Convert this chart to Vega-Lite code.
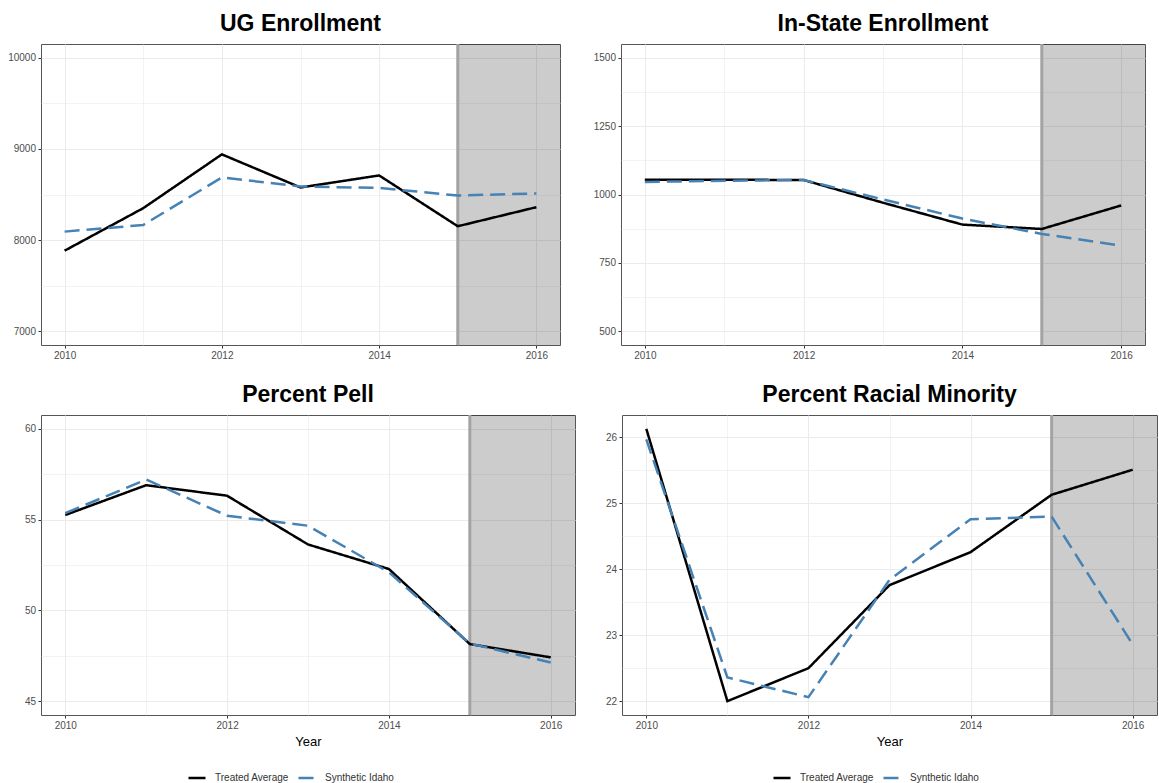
{
  "$schema": "https://vega.github.io/schema/vega-lite/v6.json",
  "background": "white",
  "padding": {"left": 0, "top": 12, "right": 0, "bottom": 0},
  "config": {
    "view": {"stroke": "#555555", "strokeWidth": 1},
    "axis": {
      "domain": false,
      "labelFont": "Liberation Sans",
      "labelFontSize": 10,
      "labelColor": "#4d4d4d",
      "tickColor": "#333333",
      "tickSize": 3,
      "labelPadding": 2.5,
      "gridColor": "#ebebeb",
      "titleFont": "Liberation Sans",
      "titleFontSize": 13,
      "titleFontWeight": "normal",
      "titleColor": "#000000"
    },
    "title": {
      "font": "Liberation Sans",
      "fontSize": 23,
      "fontWeight": "bold",
      "color": "#000000",
      "anchor": "middle",
      "frame": "group",
      "offset": 7
    },
    "legend": {
      "labelFont": "Liberation Sans",
      "labelFontSize": 10,
      "labelColor": "#333333",
      "symbolType": "stroke",
      "symbolStrokeWidth": 2.5,
      "symbolSize": 290,
      "columnPadding": 4,
      "labelOffset": 8
    }
  },
  "datasets": {
    "shade": [{"start": 2015, "end": 2016.3}],
    "ug": [
      {"year": 2010, "series": "Treated Average", "value": 7884},
      {"year": 2011, "series": "Treated Average", "value": 8350},
      {"year": 2012, "series": "Treated Average", "value": 8940},
      {"year": 2013, "series": "Treated Average", "value": 8577},
      {"year": 2014, "series": "Treated Average", "value": 8709},
      {"year": 2015, "series": "Treated Average", "value": 8152},
      {"year": 2016, "series": "Treated Average", "value": 8361},
      {"year": 2010, "series": "Synthetic Idaho", "value": 8093},
      {"year": 2011, "series": "Synthetic Idaho", "value": 8166},
      {"year": 2012, "series": "Synthetic Idaho", "value": 8687},
      {"year": 2013, "series": "Synthetic Idaho", "value": 8588},
      {"year": 2014, "series": "Synthetic Idaho", "value": 8572},
      {"year": 2015, "series": "Synthetic Idaho", "value": 8489},
      {"year": 2016, "series": "Synthetic Idaho", "value": 8511}
    ],
    "instate": [
      {"year": 2010, "series": "Treated Average", "value": 1054},
      {"year": 2011, "series": "Treated Average", "value": 1054},
      {"year": 2012, "series": "Treated Average", "value": 1053},
      {"year": 2013, "series": "Treated Average", "value": 970},
      {"year": 2014, "series": "Treated Average", "value": 890},
      {"year": 2015, "series": "Treated Average", "value": 874},
      {"year": 2016, "series": "Treated Average", "value": 960},
      {"year": 2010, "series": "Synthetic Idaho", "value": 1046},
      {"year": 2011, "series": "Synthetic Idaho", "value": 1050},
      {"year": 2012, "series": "Synthetic Idaho", "value": 1053},
      {"year": 2013, "series": "Synthetic Idaho", "value": 982},
      {"year": 2014, "series": "Synthetic Idaho", "value": 912},
      {"year": 2015, "series": "Synthetic Idaho", "value": 856},
      {"year": 2016, "series": "Synthetic Idaho", "value": 813}
    ],
    "pell": [
      {"year": 2010, "series": "Treated Average", "value": 55.25},
      {"year": 2011, "series": "Treated Average", "value": 56.89},
      {"year": 2012, "series": "Treated Average", "value": 56.31},
      {"year": 2013, "series": "Treated Average", "value": 53.63},
      {"year": 2014, "series": "Treated Average", "value": 52.28},
      {"year": 2015, "series": "Treated Average", "value": 48.15},
      {"year": 2016, "series": "Treated Average", "value": 47.42},
      {"year": 2010, "series": "Synthetic Idaho", "value": 55.35},
      {"year": 2011, "series": "Synthetic Idaho", "value": 57.2},
      {"year": 2012, "series": "Synthetic Idaho", "value": 55.21},
      {"year": 2013, "series": "Synthetic Idaho", "value": 54.66},
      {"year": 2014, "series": "Synthetic Idaho", "value": 52.1},
      {"year": 2015, "series": "Synthetic Idaho", "value": 48.18},
      {"year": 2016, "series": "Synthetic Idaho", "value": 47.14}
    ],
    "minority": [
      {"year": 2010, "series": "Treated Average", "value": 26.13},
      {"year": 2011, "series": "Treated Average", "value": 22.0},
      {"year": 2012, "series": "Treated Average", "value": 22.5},
      {"year": 2013, "series": "Treated Average", "value": 23.76},
      {"year": 2014, "series": "Treated Average", "value": 24.26},
      {"year": 2015, "series": "Treated Average", "value": 25.13},
      {"year": 2016, "series": "Treated Average", "value": 25.51},
      {"year": 2010, "series": "Synthetic Idaho", "value": 25.97},
      {"year": 2011, "series": "Synthetic Idaho", "value": 22.36},
      {"year": 2012, "series": "Synthetic Idaho", "value": 22.06},
      {"year": 2013, "series": "Synthetic Idaho", "value": 23.84},
      {"year": 2014, "series": "Synthetic Idaho", "value": 24.76},
      {"year": 2015, "series": "Synthetic Idaho", "value": 24.8},
      {"year": 2016, "series": "Synthetic Idaho", "value": 22.86}
    ]
  },
  "resolve": {"scale": {"color": "independent", "strokeDash": "independent"}},
  "spacing": 22,
  "vconcat": [
    {
      "spacing": 29,
      "resolve": {"scale": {"color": "independent", "strokeDash": "independent"}},
      "hconcat": [
        {
          "width": 519,
          "height": 301,
          "title": {"text": "UG Enrollment"},
          "layer": [
            {
              "data": {"name": "shade"},
              "mark": {"type": "rect", "color": "#000000", "opacity": 0.2, "clip": true},
              "encoding": {
                "x": {"field": "start", "type": "quantitative",
                  "scale": {"domain": [2009.7, 2016.3], "nice": false, "zero": false},
                  "axis": {"title": null, "values": [2010, 2011, 2012, 2013, 2014, 2015, 2016],
                    "labelExpr": "datum.value % 2 == 0 ? format(datum.value, 'd') : ''",
                    "tickOpacity": {"condition": {"test": "datum.value % 2 == 0", "value": 1}, "value": 0},
                    "gridWidth": {"condition": {"test": "datum.value % 2 == 0", "value": 1}, "value": 0.6}}},
                "x2": {"field": "end"}
              }
            },
            {
              "data": {"name": "shade"},
              "mark": {"type": "rule", "color": "#a3a3a3", "strokeWidth": 3},
              "encoding": {"x": {"field": "start", "type": "quantitative"}}
            },
            {
              "data": {"name": "ug"},
              "mark": {"type": "line", "strokeWidth": 2.5, "clip": true},
              "encoding": {
                "x": {"field": "year", "type": "quantitative"},
                "y": {"field": "value", "type": "quantitative",
                  "scale": {"domain": [6850, 10150], "nice": false, "zero": false},
                  "axis": {"title": null, "minExtent": 40, "maxExtent": 40,
                    "values": [7000, 7500, 8000, 8500, 9000, 9500, 10000],
                    "labelExpr": "datum.value % 1000 == 0 ? format(datum.value, 'd') : ''",
                    "tickOpacity": {"condition": {"test": "datum.value % 1000 == 0", "value": 1}, "value": 0},
                    "gridWidth": {"condition": {"test": "datum.value % 1000 == 0", "value": 1}, "value": 0.6}}},
                "color": {"field": "series", "type": "nominal", "legend": null,
                  "scale": {"domain": ["Treated Average", "Synthetic Idaho"], "range": ["#000000", "#4682b4"]}},
                "strokeDash": {"field": "series", "type": "nominal", "legend": null,
                  "scale": {"domain": ["Treated Average", "Synthetic Idaho"], "range": [[1, 0], [15, 7]]}}
              }
            }
          ]
        },
        {
          "width": 524,
          "height": 301,
          "title": {"text": "In-State Enrollment"},
          "layer": [
            {
              "data": {"name": "shade"},
              "mark": {"type": "rect", "color": "#000000", "opacity": 0.2, "clip": true},
              "encoding": {
                "x": {"field": "start", "type": "quantitative",
                  "scale": {"domain": [2009.7, 2016.3], "nice": false, "zero": false},
                  "axis": {"title": null, "values": [2010, 2011, 2012, 2013, 2014, 2015, 2016],
                    "labelExpr": "datum.value % 2 == 0 ? format(datum.value, 'd') : ''",
                    "tickOpacity": {"condition": {"test": "datum.value % 2 == 0", "value": 1}, "value": 0},
                    "gridWidth": {"condition": {"test": "datum.value % 2 == 0", "value": 1}, "value": 0.6}}},
                "x2": {"field": "end"}
              }
            },
            {
              "data": {"name": "shade"},
              "mark": {"type": "rule", "color": "#a3a3a3", "strokeWidth": 3},
              "encoding": {"x": {"field": "start", "type": "quantitative"}}
            },
            {
              "data": {"name": "instate"},
              "mark": {"type": "line", "strokeWidth": 2.5, "clip": true},
              "encoding": {
                "x": {"field": "year", "type": "quantitative"},
                "y": {"field": "value", "type": "quantitative",
                  "scale": {"domain": [450, 1550], "nice": false, "zero": false},
                  "axis": {"title": null, "minExtent": 30, "maxExtent": 30,
                    "values": [500, 625, 750, 875, 1000, 1125, 1250, 1375, 1500],
                    "labelExpr": "datum.value % 250 == 0 ? format(datum.value, 'd') : ''",
                    "tickOpacity": {"condition": {"test": "datum.value % 250 == 0", "value": 1}, "value": 0},
                    "gridWidth": {"condition": {"test": "datum.value % 250 == 0", "value": 1}, "value": 0.6}}},
                "color": {"field": "series", "type": "nominal", "legend": null,
                  "scale": {"domain": ["Treated Average", "Synthetic Idaho"], "range": ["#000000", "#4682b4"]}},
                "strokeDash": {"field": "series", "type": "nominal", "legend": null,
                  "scale": {"domain": ["Treated Average", "Synthetic Idaho"], "range": [[1, 0], [15, 7]]}}
              }
            }
          ]
        }
      ]
    },
    {
      "spacing": 25,
      "resolve": {"scale": {"color": "independent", "strokeDash": "independent"}},
      "hconcat": [
        {
          "width": 534,
          "height": 300,
          "title": {"text": "Percent Pell"},
          "layer": [
            {
              "data": {"name": "shade"},
              "mark": {"type": "rect", "color": "#000000", "opacity": 0.2, "clip": true},
              "encoding": {
                "x": {"field": "start", "type": "quantitative",
                  "scale": {"domain": [2009.7, 2016.3], "nice": false, "zero": false},
                  "axis": {"title": "Year", "titlePadding": 5, "values": [2010, 2011, 2012, 2013, 2014, 2015, 2016],
                    "labelExpr": "datum.value % 2 == 0 ? format(datum.value, 'd') : ''",
                    "tickOpacity": {"condition": {"test": "datum.value % 2 == 0", "value": 1}, "value": 0},
                    "gridWidth": {"condition": {"test": "datum.value % 2 == 0", "value": 1}, "value": 0.6}}},
                "x2": {"field": "end"}
              }
            },
            {
              "data": {"name": "shade"},
              "mark": {"type": "rule", "color": "#a3a3a3", "strokeWidth": 3},
              "encoding": {"x": {"field": "start", "type": "quantitative"}}
            },
            {
              "data": {"name": "pell"},
              "mark": {"type": "line", "strokeWidth": 2.5, "clip": true},
              "encoding": {
                "x": {"field": "year", "type": "quantitative"},
                "y": {"field": "value", "type": "quantitative",
                  "scale": {"domain": [44.25, 60.75], "nice": false, "zero": false},
                  "axis": {"title": null, "minExtent": 40, "maxExtent": 40,
                    "values": [45, 47.5, 50, 52.5, 55, 57.5, 60],
                    "labelExpr": "datum.value % 5 == 0 ? format(datum.value, 'd') : ''",
                    "tickOpacity": {"condition": {"test": "datum.value % 5 == 0", "value": 1}, "value": 0},
                    "gridWidth": {"condition": {"test": "datum.value % 5 == 0", "value": 1}, "value": 0.6}}},
                "color": {"field": "series", "type": "nominal",
                  "scale": {"domain": ["Treated Average", "Synthetic Idaho"], "range": ["#000000", "#4682b4"]},
                  "legend": {"title": null, "orient": "none", "direction": "horizontal", "legendX": 146, "legendY": 353}},
                "strokeDash": {"field": "series", "type": "nominal",
                  "scale": {"domain": ["Treated Average", "Synthetic Idaho"], "range": [[1, 0], [15, 7]]},
                  "legend": {"title": null, "orient": "none", "direction": "horizontal", "legendX": 146, "legendY": 353}}
              }
            }
          ]
        },
        {
          "width": 535,
          "height": 300,
          "title": {"text": "Percent Racial Minority"},
          "layer": [
            {
              "data": {"name": "shade"},
              "mark": {"type": "rect", "color": "#000000", "opacity": 0.2, "clip": true},
              "encoding": {
                "x": {"field": "start", "type": "quantitative",
                  "scale": {"domain": [2009.7, 2016.3], "nice": false, "zero": false},
                  "axis": {"title": "Year", "titlePadding": 5, "values": [2010, 2011, 2012, 2013, 2014, 2015, 2016],
                    "labelExpr": "datum.value % 2 == 0 ? format(datum.value, 'd') : ''",
                    "tickOpacity": {"condition": {"test": "datum.value % 2 == 0", "value": 1}, "value": 0},
                    "gridWidth": {"condition": {"test": "datum.value % 2 == 0", "value": 1}, "value": 0.6}}},
                "x2": {"field": "end"}
              }
            },
            {
              "data": {"name": "shade"},
              "mark": {"type": "rule", "color": "#a3a3a3", "strokeWidth": 3},
              "encoding": {"x": {"field": "start", "type": "quantitative"}}
            },
            {
              "data": {"name": "minority"},
              "mark": {"type": "line", "strokeWidth": 2.5, "clip": true},
              "encoding": {
                "x": {"field": "year", "type": "quantitative"},
                "y": {"field": "value", "type": "quantitative",
                  "scale": {"domain": [21.79, 26.34], "nice": false, "zero": false},
                  "axis": {"title": null, "minExtent": 20, "maxExtent": 20,
                    "values": [22, 22.5, 23, 23.5, 24, 24.5, 25, 25.5, 26],
                    "labelExpr": "datum.value % 1 == 0 ? format(datum.value, 'd') : ''",
                    "tickOpacity": {"condition": {"test": "datum.value % 1 == 0", "value": 1}, "value": 0},
                    "gridWidth": {"condition": {"test": "datum.value % 1 == 0", "value": 1}, "value": 0.6}}},
                "color": {"field": "series", "type": "nominal",
                  "scale": {"domain": ["Treated Average", "Synthetic Idaho"], "range": ["#000000", "#4682b4"]},
                  "legend": {"title": null, "orient": "none", "direction": "horizontal", "legendX": 150, "legendY": 353}},
                "strokeDash": {"field": "series", "type": "nominal",
                  "scale": {"domain": ["Treated Average", "Synthetic Idaho"], "range": [[1, 0], [15, 7]]},
                  "legend": {"title": null, "orient": "none", "direction": "horizontal", "legendX": 150, "legendY": 353}}
              }
            }
          ]
        }
      ]
    }
  ]
}
